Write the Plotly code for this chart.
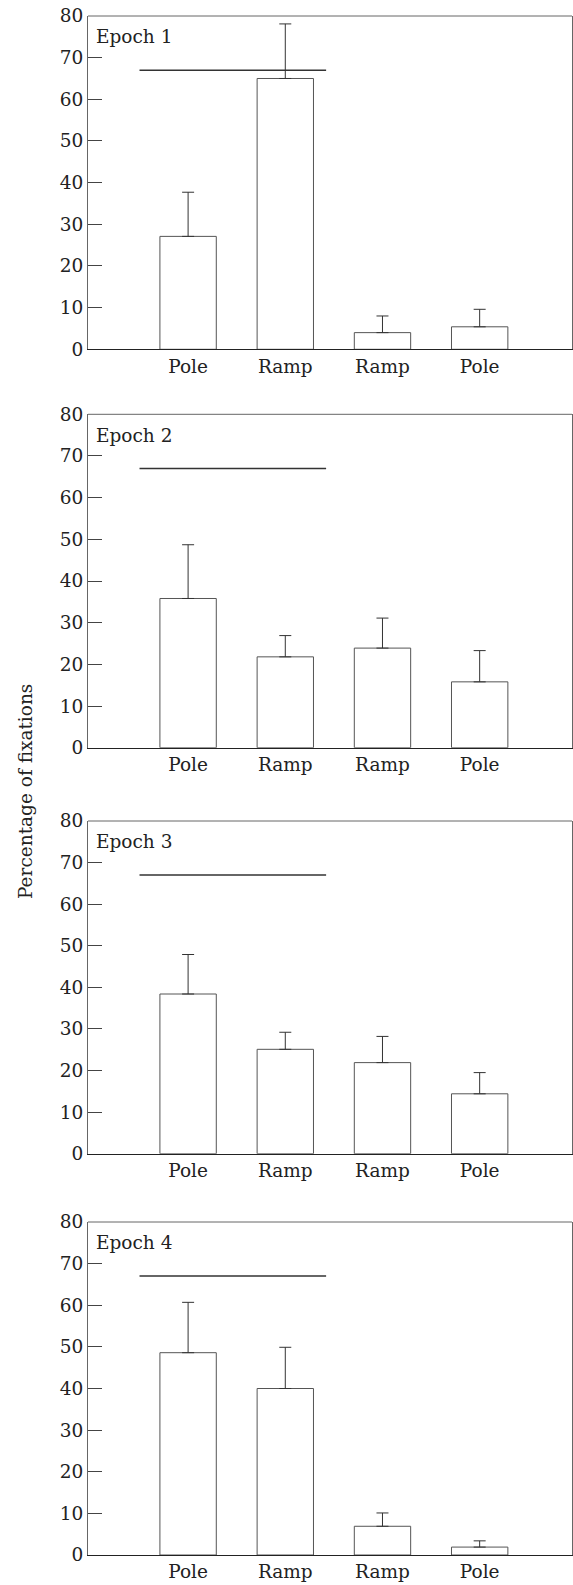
import plotly.graph_objects as go

# ---- data ----
categories = ["Pole", "Ramp", "Ramp", "Pole"]
epochs = ["Epoch 1", "Epoch 2", "Epoch 3", "Epoch 4"]
means = [
    [27.1, 65.0, 4.0, 5.4],
    [35.8, 21.8, 23.9, 15.8],
    [38.4, 25.1, 21.9, 14.4],
    [48.6, 40.0, 6.9, 1.9],
]
error_tops = [
    [37.7, 78.1, 8.0, 9.6],
    [48.7, 26.9, 31.1, 23.3],
    [47.9, 29.2, 28.2, 19.5],
    [60.7, 49.9, 10.1, 3.4],
]
y_ticks = [0, 10, 20, 30, 40, 50, 60, 70, 80]
ref_line_y = 67
ref_line_x = [-0.5, 1.42]

# ---- layout geometry (pixels) ----
W, H = 573, 1585
mt, mb, ml, mr = 16, 30, 88, 1
panel_px = [(16, 349.3), (414.3, 747.7), (821, 1153.7), (1222, 1555)]
plot_h = H - mt - mb
plot_w = W - ml - mr

def to_paper(ypx):
    return max(0.0, min(1.0, (H - mb - ypx) / plot_h))

FONT = "DejaVu Serif"
TXT = "#222222"
FS = 18.5
fig = go.Figure()
xpos = list(range(len(categories)))
shapes = []
annotations = []
layout_axes = {}

for i in range(4):
    n = "" if i == 0 else str(i + 1)
    xa = "x" + n
    ya = "y" + n
    plus = [t - m for t, m in zip(error_tops[i], means[i])]
    fig.add_trace(go.Bar(
        x=xpos, y=means[i], xaxis=xa, yaxis=ya, width=0.58,
        marker=dict(color="white", line=dict(color="#555555", width=1)),
        error_y=dict(type="data", array=plus, symmetric=False,
                     arrayminus=[0] * 4, color="#333333", thickness=1, width=6),
        showlegend=False, hoverinfo="skip",
    ))
    top, bot = panel_px[i]
    dom = [to_paper(bot), to_paper(top)]
    layout_axes["xaxis" + n] = dict(
        domain=[0, 1], range=[-1.03, 3.95], anchor=ya,
        tickmode="array", tickvals=xpos, ticktext=categories,
        showline=True, linecolor="#222222", linewidth=1, mirror=False,
        ticks="", showgrid=False, zeroline=False, fixedrange=True,
        tickfont=dict(family=FONT, size=FS, color=TXT), automargin=False,
    )
    layout_axes["yaxis" + n] = dict(
        domain=dom, range=[0, 80], anchor=xa,
        tickmode="array", tickvals=y_ticks,
        showline=True, linecolor="#666666", linewidth=1, mirror=True,
        ticks="inside", ticklen=14, tickwidth=1, tickcolor="#444444",
        showgrid=False, zeroline=False, fixedrange=True,
        tickfont=dict(family=FONT, size=FS, color=TXT), automargin=False,
    )
    # top border
    shapes.append(dict(type="line", xref=xa + " domain", yref=ya + " domain",
                       x0=0, x1=1, y0=1, y1=1,
                       line=dict(color="#666666", width=1)))
    # reference line
    shapes.append(dict(type="line", xref=xa, yref=ya,
                       x0=ref_line_x[0], x1=ref_line_x[1],
                       y0=ref_line_y, y1=ref_line_y,
                       line=dict(color="#333333", width=1.5)))
    annotations.append(dict(text=epochs[i], xref=xa + " domain", yref=ya + " domain",
                            x=0.012, y=0.975, xanchor="left", yanchor="top",
                            showarrow=False,
                            font=dict(family=FONT, size=FS, color=TXT)))

annotations.append(dict(text="Percentage of fixations", xref="paper", yref="paper",
                        x=(25 - ml) / plot_w, y=to_paper(792),
                        xanchor="center", yanchor="middle",
                        textangle=-90, showarrow=False,
                        font=dict(family=FONT, size=FS, color=TXT)))

fig.update_layout(
    width=W, height=H,
    margin=dict(t=mt, b=mb, l=ml, r=mr, pad=0),
    paper_bgcolor="white", plot_bgcolor="white",
    shapes=shapes, annotations=annotations, bargap=0.4,
    **layout_axes,
)
fig.write_html(
    "out.html",
    config={"displayModeBar": False},
    post_script="document.body.style.margin='0';document.body.style.overflow='hidden';",
)
